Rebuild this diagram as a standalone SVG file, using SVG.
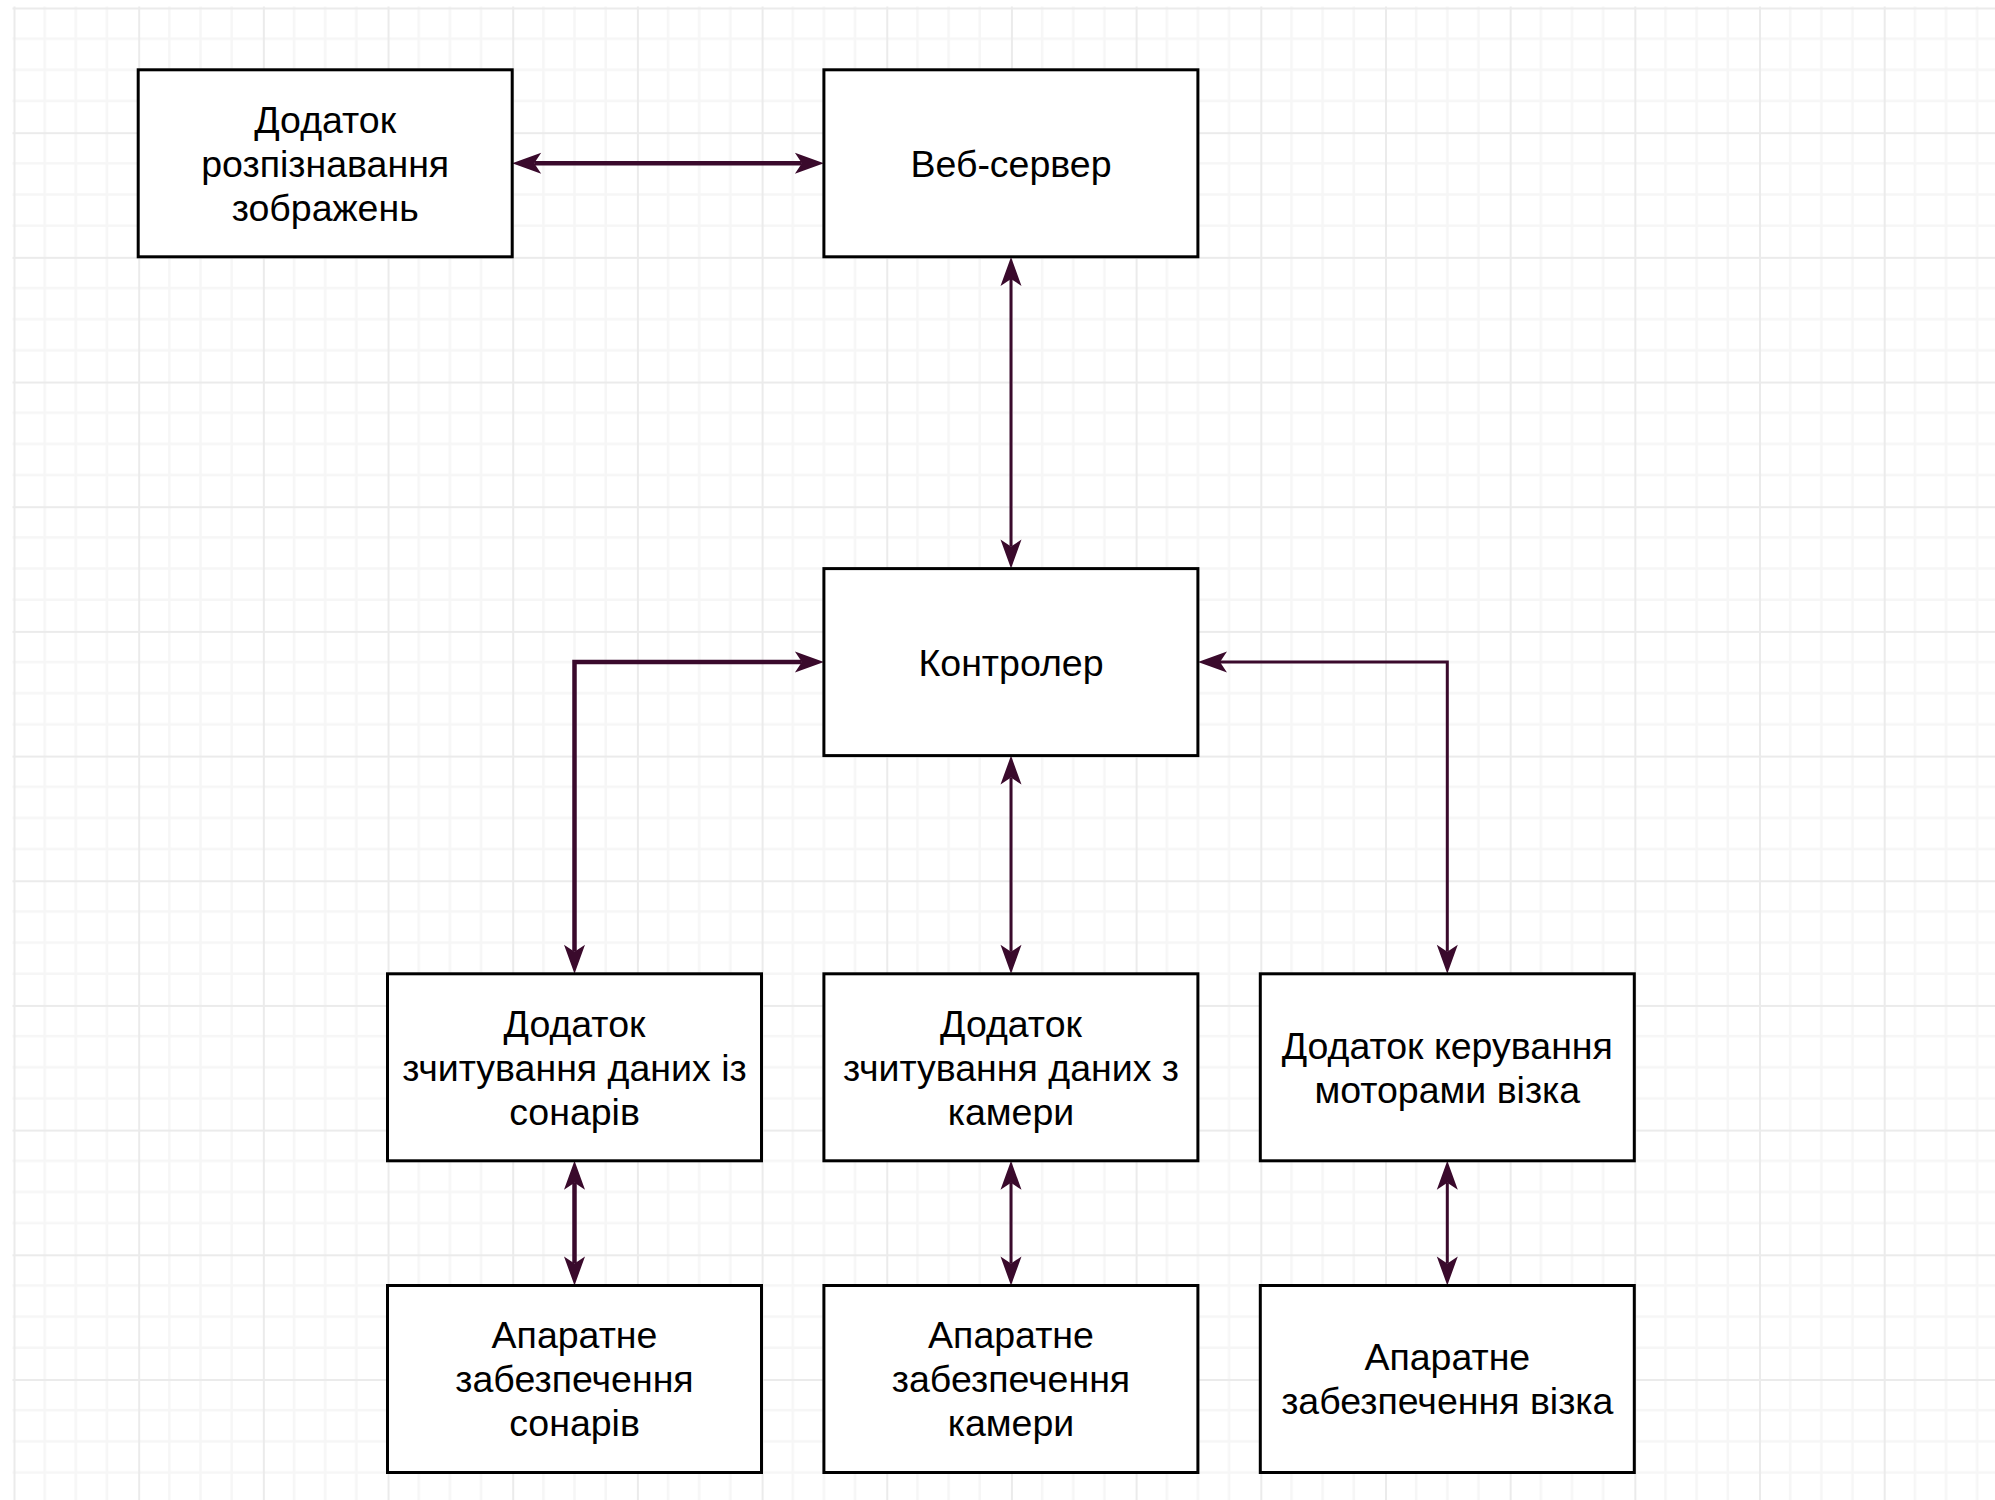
<svg xmlns="http://www.w3.org/2000/svg" width="1995" height="1500" viewBox="0 0 1995 1500">
  <style>
    .box { fill: #ffffff; stroke: #000000; stroke-width: 3; }
    .lbl { font-family: "Liberation Sans", Arial, Helvetica, sans-serif; font-size: 37.5px; fill: #000000; text-anchor: middle; }
    .conn { fill: none; stroke: #3a0a2c; }
    .thick { stroke-width: 4.5; }
    .thin { stroke-width: 3; }
  </style>
  <defs>
    <pattern id="grid" patternUnits="userSpaceOnUse" x="13.5" y="7.5" width="124.68" height="124.68">
      <path d="M31.17 0V124.68M62.34 0V124.68M93.51 0V124.68M0 31.17H124.68M0 62.34H124.68M0 93.51H124.68" stroke="#f6f6f6" stroke-width="2.5" fill="none"/>
      <path d="M1 0V124.68M0 1H124.68" stroke="#ebebeb" stroke-width="2" fill="none"/>
    </pattern>
    <marker id="arr" markerUnits="userSpaceOnUse" markerWidth="1" markerHeight="1" refX="0" refY="0" orient="auto-start-reverse" overflow="visible">
      <path d="M22,0 L-7,-10.5 L0,0 L-7,10.5 Z" fill="#3a0a2c"/>
    </marker>
  </defs>
  <rect x="0" y="0" width="1995" height="1500" fill="#ffffff"/>
  <rect x="12.5" y="6.5" width="1982.5" height="1493.5" fill="url(#grid)"/>

  <g id="connectors">
    <path class="conn thick" d="M534.2,163.3 H801.9" marker-start="url(#arr)" marker-end="url(#arr)"/>
    <path class="conn thin" d="M1011,278.9 V546.6" marker-start="url(#arr)" marker-end="url(#arr)"/>
    <path class="conn thick" d="M801.9,662.1 H574.5 V951.8" marker-start="url(#arr)" marker-end="url(#arr)"/>
    <path class="conn thin" d="M1011,777.6 V951.8" marker-start="url(#arr)" marker-end="url(#arr)"/>
    <path class="conn thin" d="M1220,662.1 H1447.3 V951.8" marker-start="url(#arr)" marker-end="url(#arr)"/>
    <path class="conn thick" d="M574.5,1182.8 V1263.5" marker-start="url(#arr)" marker-end="url(#arr)"/>
    <path class="conn thin" d="M1011,1182.8 V1263.5" marker-start="url(#arr)" marker-end="url(#arr)"/>
    <path class="conn thin" d="M1447.3,1182.8 V1263.5" marker-start="url(#arr)" marker-end="url(#arr)"/>
  </g>

  <g id="node-image-recognition">
    <rect class="box" x="138.2" y="69.8" width="374" height="187"/>
    <text class="lbl" x="325.2" y="132.5">Додаток</text>
    <text class="lbl" x="325.2" y="176.5">розпізнавання</text>
    <text class="lbl" x="325.2" y="220.5">зображень</text>
  </g>
  <g id="node-web-server">
    <rect class="box" x="823.9" y="69.8" width="374" height="187"/>
    <text class="lbl" x="1011" y="176.5">Веб-сервер</text>
  </g>
  <g id="node-controller">
    <rect class="box" x="823.9" y="568.6" width="374" height="187"/>
    <text class="lbl" x="1011" y="675.5">Контролер</text>
  </g>
  <g id="node-sonar-app">
    <rect class="box" x="387.5" y="973.8" width="374" height="187"/>
    <text class="lbl" x="574.5" y="1036.5">Додаток</text>
    <text class="lbl" x="574.5" y="1080.5">зчитування даних із</text>
    <text class="lbl" x="574.5" y="1124.5">сонарів</text>
  </g>
  <g id="node-camera-app">
    <rect class="box" x="823.9" y="973.8" width="374" height="187"/>
    <text class="lbl" x="1011" y="1036.5">Додаток</text>
    <text class="lbl" x="1011" y="1080.5">зчитування даних з</text>
    <text class="lbl" x="1011" y="1124.5">камери</text>
  </g>
  <g id="node-motor-app">
    <rect class="box" x="1260.3" y="973.8" width="374" height="187"/>
    <text class="lbl" x="1447.3" y="1058.5">Додаток керування</text>
    <text class="lbl" x="1447.3" y="1102.5">моторами візка</text>
  </g>
  <g id="node-sonar-hw">
    <rect class="box" x="387.5" y="1285.5" width="374" height="187"/>
    <text class="lbl" x="574.5" y="1348.2">Апаратне</text>
    <text class="lbl" x="574.5" y="1392.2">забезпечення</text>
    <text class="lbl" x="574.5" y="1436.2">сонарів</text>
  </g>
  <g id="node-camera-hw">
    <rect class="box" x="823.9" y="1285.5" width="374" height="187"/>
    <text class="lbl" x="1011" y="1348.2">Апаратне</text>
    <text class="lbl" x="1011" y="1392.2">забезпечення</text>
    <text class="lbl" x="1011" y="1436.2">камери</text>
  </g>
  <g id="node-cart-hw">
    <rect class="box" x="1260.3" y="1285.5" width="374" height="187"/>
    <text class="lbl" x="1447.3" y="1370.2">Апаратне</text>
    <text class="lbl" x="1447.3" y="1414.2">забезпечення візка</text>
  </g>
</svg>
